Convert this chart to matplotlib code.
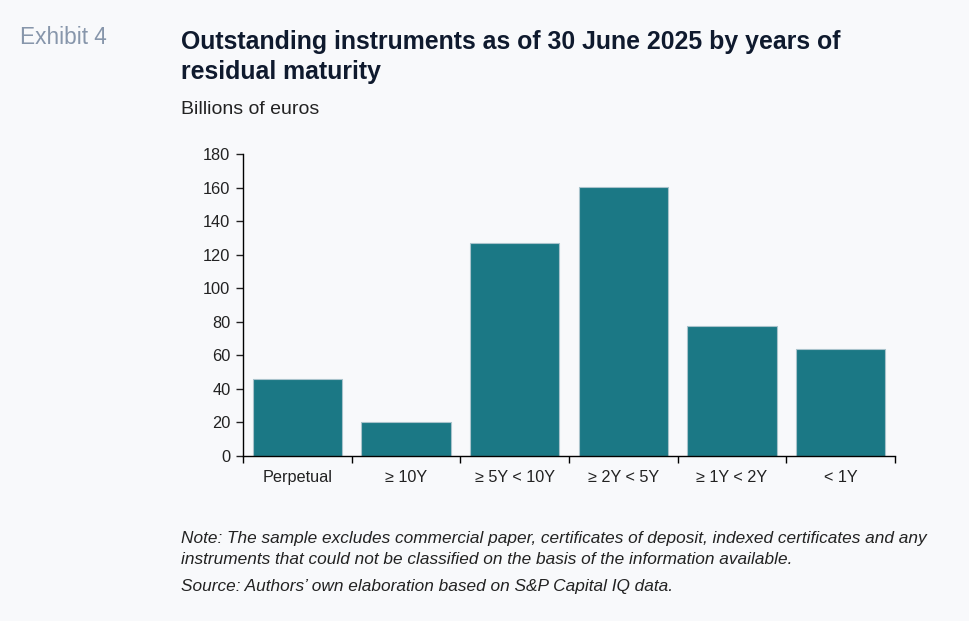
import matplotlib
matplotlib.use("Agg")
import matplotlib.pyplot as plt
from matplotlib.ticker import FixedLocator, NullFormatter

categories = ["Perpetual", "\u2265 10Y", "\u2265 5Y < 10Y", "\u2265 2Y < 5Y", "\u2265 1Y < 2Y", "< 1Y"]
values = [46, 20.5, 127, 160.5, 77.5, 63.5]
y_ticks = [0, 20, 40, 60, 80, 100, 120, 140, 160, 180]

BG = "#f8f9fb"
BAR = "#1b7885"
EDGE = "#a9c3cc"
TXT = "#222222"

plt.rcParams['font.family'] = ['Liberation Sans', 'DejaVu Sans']

fig = plt.figure(figsize=(9.69, 6.21), dpi=100, facecolor=BG)
ax = fig.add_axes([243/969, 1-456/621, (895-243)/969, (456-154)/621])
ax.set_facecolor(BG)

x = list(range(len(categories)))
ax.bar(x, values, width=0.82, color=BAR, edgecolor=EDGE, linewidth=0.8, zorder=2)

ax.set_xlim(-0.5, len(categories) - 0.5)
ax.set_ylim(0, 180)
ax.set_yticks(y_ticks)
ax.tick_params(axis='y', labelsize=11.8, colors=TXT, length=5, width=1, direction='out', pad=4)
ax.set_xticks(x)
ax.set_xticklabels(categories, fontsize=11.7, color=TXT)
ax.tick_params(axis='x', which='major', length=0, pad=10)
ax.xaxis.set_minor_locator(FixedLocator([i - 0.5 for i in range(len(categories) + 1)]))
ax.xaxis.set_minor_formatter(NullFormatter())
ax.tick_params(axis='x', which='minor', length=5, width=1, direction='out', color='black')

for s in ['top', 'right']:
    ax.spines[s].set_visible(False)
for s in ['left', 'bottom']:
    ax.spines[s].set_linewidth(1)
    ax.spines[s].set_color('black')

fig.text(20/969, 1-37/621, "Exhibit 4", fontsize=16.3, color="#8796ab", va='center', ha='left')
fig.text(181/969, 1-42/621, "Outstanding instruments as of 30 June 2025 by years of",
         fontsize=17.9, fontweight='bold', color="#0f1a2e", va='center', ha='left')
fig.text(181/969, 1-72/621, "residual maturity",
         fontsize=17.9, fontweight='bold', color="#0f1a2e", va='center', ha='left')
fig.text(181/969, 1-110/621, "Billions of euros", fontsize=14, color=TXT, va='center', ha='left')

fig.text(181/969, 1-539/621, "Note: The sample excludes commercial paper, certificates of deposit, indexed certificates and any",
         fontsize=12.4, style='italic', color=TXT, va='center', ha='left')
fig.text(181/969, 1-560/621, "instruments that could not be classified on the basis of the information available.",
         fontsize=12.4, style='italic', color=TXT, va='center', ha='left')
fig.text(181/969, 1-587/621, "Source: Authors\u2019 own elaboration based on S&P Capital IQ data.",
         fontsize=12.4, style='italic', color=TXT, va='center', ha='left')

fig.savefig("out.png", dpi=100, facecolor=BG)
